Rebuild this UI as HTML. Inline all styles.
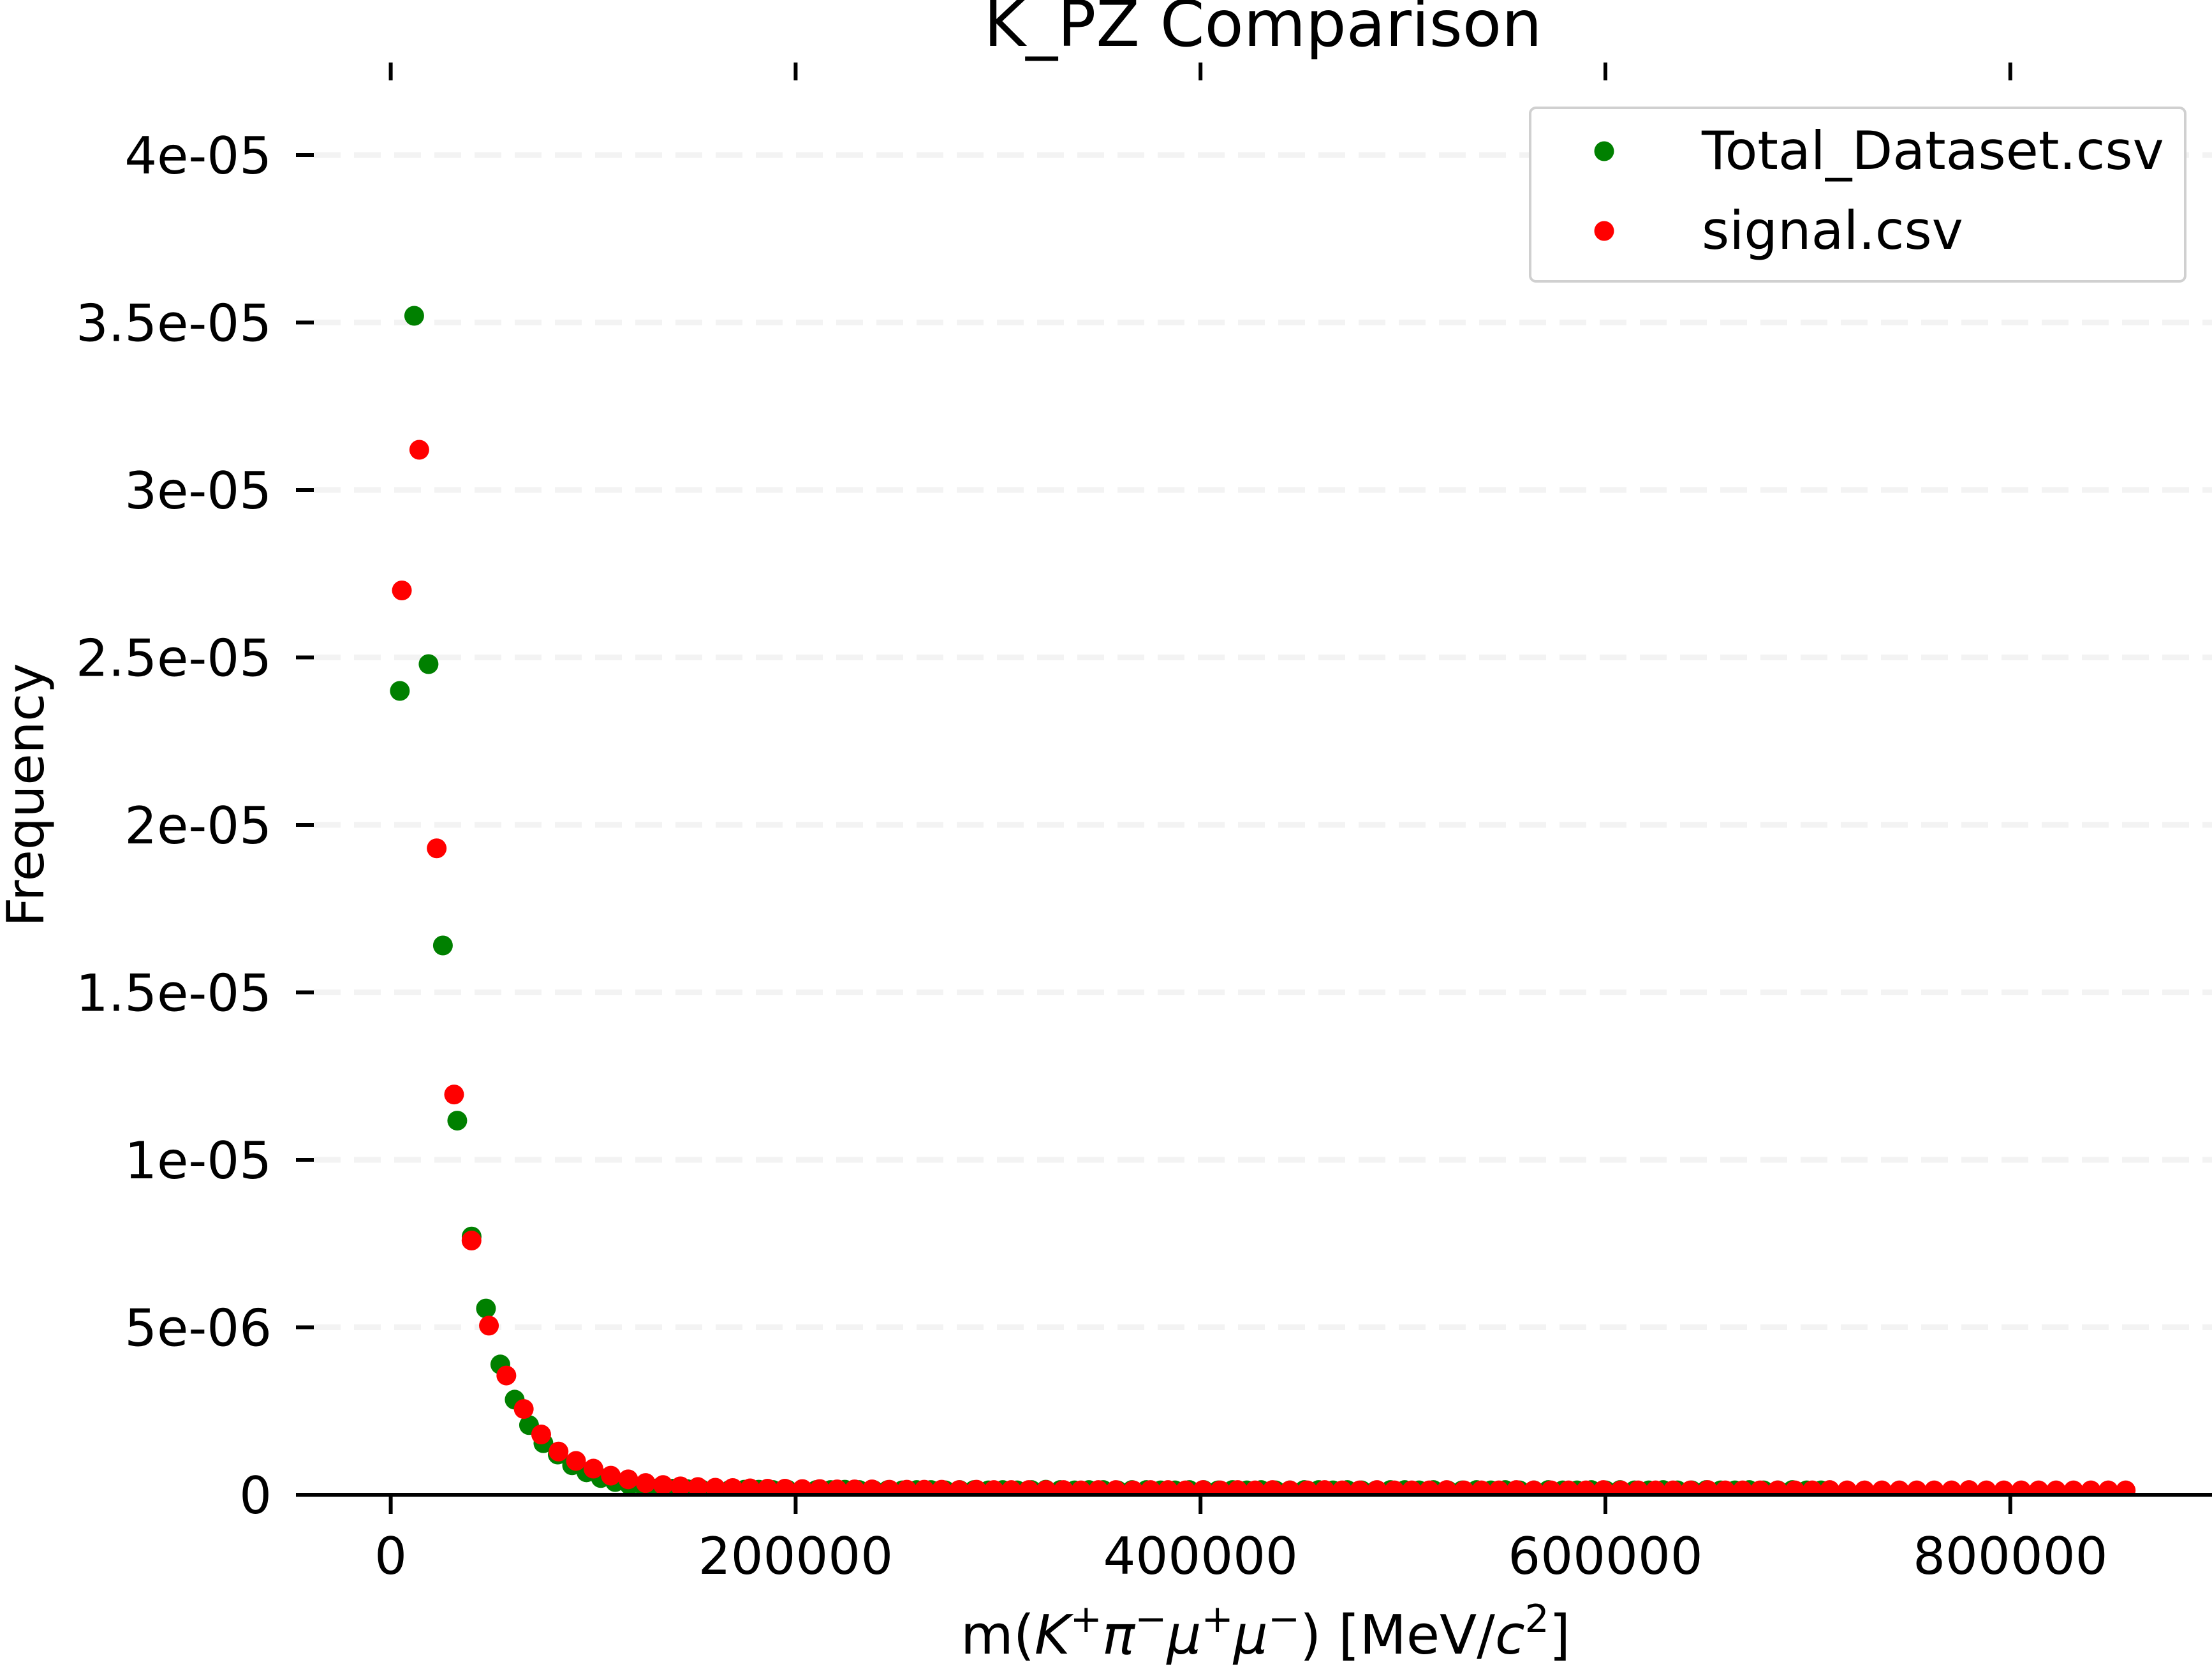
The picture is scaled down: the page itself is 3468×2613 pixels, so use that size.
<!DOCTYPE html>
<html><head><meta charset="utf-8">
<style>
html,body{margin:0;padding:0;background:#fff;}
svg{display:block;font-family:"DejaVu Sans","Liberation Sans",sans-serif;}
</style></head>
<body>
<svg id="chart" width="3468" height="2613" viewBox="0 0 3468 2613" xmlns="http://www.w3.org/2000/svg">
<defs><clipPath id="plotclip"><rect x="464" y="0" width="3004" height="2343"/></clipPath></defs>
<rect width="3468" height="2613" fill="#fff"/>
<text x="1980" y="72" font-size="100" text-anchor="middle">K_PZ Comparison</text>
<g id="grid"></g>
<g id="yticks"></g>
<g id="xticks"></g>
<g id="points" clip-path="url(#plotclip)"></g>
<line x1="464" y1="2343" x2="3468" y2="2343" stroke="#000" stroke-width="6"/>
<text x="1984" y="2592" font-size="85" text-anchor="middle">m(<tspan font-style="italic">K</tspan><tspan font-size="60" dy="-34">+</tspan><tspan font-style="italic" dy="34">π</tspan><tspan font-size="60" dy="-34">−</tspan><tspan font-style="italic" dy="34">μ</tspan><tspan font-size="60" dy="-34">+</tspan><tspan font-style="italic" dy="34">μ</tspan><tspan font-size="60" dy="-34">−</tspan><tspan dy="34">) [MeV/</tspan><tspan font-style="italic">c</tspan><tspan font-size="60" dy="-34">2</tspan><tspan dy="34">]</tspan></text>
<text transform="translate(68,1246) rotate(-90)" font-size="80" text-anchor="middle">Frequency</text>
<g>
<rect x="2399" y="169" width="1027" height="272" rx="9" fill="#fff" stroke="#d0d0d0" stroke-width="4"/>
<circle cx="2515" cy="237" r="15.5" fill="#008000"/>
<text x="2668" y="265" font-size="83">Total_Dataset.csv</text>
<circle cx="2515" cy="362" r="15.5" fill="#ff0000"/>
<text x="2668" y="390" font-size="83">signal.csv</text>
</g>
</svg>
<script>
// data (values in units of 1e-05)
const yTicks = [0, 0.5, 1, 1.5, 2, 2.5, 3, 3.5, 4];
const yTickLabels = ["0","5e-06","1e-05","1.5e-05","2e-05","2.5e-05","3e-05","3.5e-05","4e-05"];
const xTicks = [0, 200000, 400000, 600000, 800000];
const xTickLabels = ["0","200000","400000","600000","800000"];
const totalStart = 4500, totalBin = 7091;
const signalStart = 5500, signalBin = 8601;
const totalValues = [2.40,3.52,2.48,1.64,1.117,0.771,0.556,0.389,0.284,0.208,0.154,0.120,0.088,0.067,0.050,0.038,0.029,0.024,0.020,0.018,
0.017,0.016,0.016,0.015,0.015,0.015,0.014,0.015,0.014,0.014,0.014,0.015,0.014,0.014,0.014,0.013,0.014,0.014,0.013,0.014,
0.014,0.013,0.014,0.013,0.014,0.015,0.014,0.013,0.014,0.014,0.013,0.014,0.014,0.013,0.013,0.014,0.014,0.013,0.014,0.013,
0.014,0.013,0.013,0.014,0.014,0.013,0.014,0.013,0.013,0.014,0.014,0.013,0.014,0.013,0.013,0.014,0.013,0.014,0.013,0.013,
0.014,0.013,0.013,0.014,0.013,0.014,0.013,0.013,0.014,0.013,0.013,0.014,0.013,0.013,0.014,0.013,0.013,0.014,0.013,0.013];
const signalValues = [2.70,3.12,1.93,1.195,0.759,0.505,0.356,0.256,0.180,0.129,0.101,0.078,0.057,0.046,0.035,0.029,0.025,0.023,0.021,0.020,
0.019,0.018,0.018,0.017,0.017,0.016,0.016,0.016,0.015,0.015,0.015,0.015,0.014,0.015,0.014,0.014,0.014,0.014,0.014,0.013,
0.014,0.014,0.013,0.014,0.014,0.013,0.014,0.013,0.014,0.013,0.014,0.013,0.013,0.014,0.013,0.013,0.014,0.013,0.013,0.013,
0.014,0.013,0.013,0.013,0.014,0.013,0.013,0.013,0.013,0.014,0.013,0.013,0.013,0.013,0.013,0.014,0.013,0.013,0.013,0.013,
0.013,0.013,0.014,0.013,0.013,0.013,0.013,0.013,0.013,0.013,0.014,0.013,0.013,0.013,0.013,0.013,0.013,0.013,0.013,0.013];

const NS = "http://www.w3.org/2000/svg";
function xScale(v){ return 612.6 + v * (634.8/200000); }
function yScale(v){ return 2343 - v * 525; }
function mk(tag, attrs, parent){ const e=document.createElementNS(NS,tag); for(const k in attrs) e.setAttribute(k,attrs[k]); parent.appendChild(e); return e; }

const grid=document.getElementById('grid'), yt=document.getElementById('yticks'), xt=document.getElementById('xticks'), pts=document.getElementById('points');
yTicks.forEach((t,i)=>{
  const y=yScale(t);
  if(t>0){
    const g=mk('line',{x1:492,y1:y,x2:3468,y2:y,stroke:'#f3f3f3','stroke-width':9,'stroke-dasharray':'42 21'},grid);
    
    
  }
  const tk=mk('line',{x1:464,y1:y,x2:492,y2:y,stroke:'#000','stroke-width':6},yt);
  
  
  const lb=mk('text',{x:426,y:y+29,'font-size':80,'text-anchor':'end'},yt);
  lb.textContent=yTickLabels[i];
  
  
});
xTicks.forEach((t,i)=>{
  const x=xScale(t);
  const tk=mk('line',{x1:x,y1:2343,x2:x,y2:2373,stroke:'#000','stroke-width':6},xt);
  
  
  const tt=mk('line',{x1:x,y1:98,x2:x,y2:126,stroke:'#000','stroke-width':6},xt);
  
  
  const lb=mk('text',{x:x,y:2467,'font-size':80,'text-anchor':'middle'},xt);
  lb.textContent=xTickLabels[i];
  
  
});
totalValues.forEach((v,i)=>{
  const c=mk('circle',{cx:xScale(totalStart+i*totalBin),cy:yScale(v),r:15.5,fill:'#008000'},pts);
  
  
});
signalValues.forEach((v,i)=>{
  const c=mk('circle',{cx:xScale(signalStart+i*signalBin),cy:yScale(v),r:15.5,fill:'#ff0000'},pts);
  
  
});
</script>
</body></html>
